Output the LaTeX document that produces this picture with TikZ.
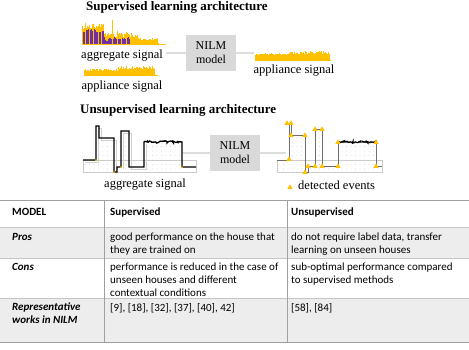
\documentclass[tikz,border=0pt]{standalone}
\usepackage{fontspec}
\setmainfont{Liberation Serif}
\newfontfamily\tabfont{Carlito}
\usepackage{tikz}
\usetikzlibrary{positioning,shapes.geometric,decorations.pathmorphing}
\definecolor{nilmorange}{HTML}{FFC000}
\definecolor{nilmpurple}{HTML}{7030A0}
\definecolor{nilmbox}{HTML}{D9D9D9}
\definecolor{nilmline}{HTML}{DDDDDD}
\definecolor{nilmgray}{HTML}{6E6E6E}
\definecolor{tabfill}{HTML}{EDEDED}
\definecolor{tabrule}{HTML}{A0A0A0}
\tikzset{
  archtitle/.style = {anchor=west, inner sep=0pt, font=\fontsize{13}{15}\selectfont\bfseries},
  siglabel/.style  = {inner sep=0pt, font=\fontsize{12.5}{14}\selectfont},
  modelbox/.style  = {rectangle, fill=nilmbox, minimum width=50pt, minimum height=36pt,
                       align=center, inner sep=1pt, font=\fontsize{12}{14}\selectfont},
  link/.style      = {nilmline, line width=2.2pt},
  stepshade/.style = {gray!35, line width=1pt},
  evt/.style       = {regular polygon, regular polygon sides=3, fill=nilmorange,
                       inner sep=0pt, minimum size=6pt, anchor=south},
  noisy/.style     = {decoration={random steps, segment length=1.2pt, amplitude=1.1pt}},
  tabhead/.style   = {anchor=north west, inner sep=0pt, align=left,
                       font=\tabfont\fontsize{11}{13}\selectfont\bfseries},
  tabcell/.style   = {anchor=north west, inner sep=0pt, align=left,
                       font=\tabfont\fontsize{11}{13}\selectfont},
  tabkey/.style    = {tabcell, font=\tabfont\fontsize{11}{13}\selectfont\bfseries\itshape},
}
\newcommand{\dotgrid}[3]{% first x, second x, last x
  \foreach \gx in {#1,#2,...,#3}
    \foreach \gy in {124,128.5,...,172}
      \fill[gray!45] (\gx,\gy) circle (0.45pt);}

\begin{document}
\begin{tikzpicture}[x=1pt,y=-1pt]
\useasboundingbox (0,0) rectangle (469,349);

% supervised architecture
\node[archtitle] (supt) at (86,7) {Supervised learning architecture};

% aggregate signal
\pgfmathsetseed{12}
\foreach \i in {0,...,76} {
  \pgfmathsetmacro{\xx}{82+\i}
  \pgfmathsetmacro{\sh}{(\xx<104) ? (24+5*rnd) : ((\xx<138) ? (33+4*rnd) : ((\xx<158) ? (38+2*rnd) : 43))}
  \draw[nilmorange, line width=1pt] (\xx,44) -- (\xx,\sh);
}
\foreach \i in {0,...,46} {
  \pgfmathsetmacro{\xx}{83+\i}
  \pgfmathsetmacro{\sh}{(\xx<104) ? (29+3*rnd) : (37+4*rnd)}
  \draw[nilmpurple, line width=1pt] (\xx,44) -- (\xx,\sh);
}
\foreach \xx/\sh in {85/23, 89/25, 93/24, 98/26, 101/24, 112/20, 117/31, 121/33, 126/32, 131/33}
  \draw[nilmorange, line width=0.7pt] (\xx,44) -- (\xx,\sh);
\draw[nilmorange, line width=0.8pt] (82,44) -- (166,44);
\node[siglabel] (aggS) at (122,56) {aggregate signal};

% appliance signal, input side
\foreach \i in {0,...,70} {
  \pgfmathsetmacro{\xx}{84+\i}
  \pgfmathsetmacro{\sh}{(\xx<118) ? (69+2*rnd) : (66+3*rnd)}
  \draw[nilmorange, line width=0.6pt] (\xx,75) -- (\xx,\sh);
}
\draw[nilmorange, line width=0.8pt] (84,75) -- (158,75);
\node[siglabel] (appS) at (122,87) {appliance signal};

% model and output
\node[modelbox] (nilmS) at (211,53) {NILM\\model};
\foreach \i in {0,...,74} {
  \pgfmathsetmacro{\xx}{255+\i}
  \pgfmathsetmacro{\sh}{(\xx<290) ? (53+2*rnd) : (51+3*rnd)}
  \draw[nilmorange, line width=0.6pt] (\xx,60) -- (\xx,\sh);
}
\draw[nilmorange, line width=0.8pt] (255,60) -- (331,60);
\node[siglabel] (appR) at (294,71) {appliance signal};
\coordinate (aggE) at (166,53);
\coordinate (appW) at (254,53);
\draw[link] (aggE) -- (nilmS);
\draw[link] (nilmS) -- (appW);

% unsupervised architecture
\node[archtitle] (unst) at (80,110) {Unsupervised learning architecture};
\node[modelbox] (nilmU) at (235,153) {NILM\\model};
\coordinate (aggU) at (183,153);
\coordinate (evtW) at (286,153);
\draw[link] (aggU) -- (nilmU);
\draw[link] (nilmU) -- (evtW);

% aggregate signal, left
\draw[gray!40, fill=white] (83,160) rectangle (196,172);
\begin{scope}
  \clip (83,172) -- (83,160) -- (96,160) -- (96,126) -- (99,126) -- (99,138) -- (114,138)
    -- (114,172) -- (117,172) -- (117,167) -- (121,167) -- (121,131) -- (129,131) -- (129,167)
    -- (144,167) -- (144,142) -- (182,142) -- (182,172) -- cycle;
  \dotgrid{85}{89.5}{196}
\end{scope}
\draw[stepshade] (85,162) -- (98,162) -- (98,128) -- (101,128) -- (101,140) -- (116,140) -- (116,174);
\draw[stepshade] (123,169) -- (123,133) -- (131,133) -- (131,169) -- (146,169) -- (146,144);
\draw[line width=1.3pt] (83,160) -- (96,160) -- (96,126) -- (99,126) -- (99,138) -- (114,138)
  -- (114,172) -- (117,172) -- (117,167) -- (121,167) -- (121,131) -- (129,131) -- (129,167)
  -- (144,167) -- (144,142) decorate[noisy] {-- (182,142)} -- (182,167) -- (196,167);
\foreach \xx/\yy in {96/160, 114/172, 121/167, 182/167}
  \fill[nilmorange] (\xx,\yy) circle (1pt);
\node[siglabel] (aggUl) at (145,185) {aggregate signal};

% detected events, right
\draw[gray!40, fill=white] (277,160) rectangle (382,172);
\begin{scope}
  \clip (277,172) -- (277,160) -- (289,160) -- (289,123) -- (291,123) -- (291,135) -- (305,135)
    -- (305,172) -- (308,172) -- (308,166) -- (315,166) -- (315,129) -- (322,129) -- (322,166)
    -- (338,166) -- (338,142) -- (376,142) -- (376,172) -- cycle;
  \dotgrid{279}{283.5}{382}
\end{scope}
\draw[nilmgray, line width=0.9pt] (277,160) -- (289,160) -- (289,123) -- (291,123) -- (291,135) -- (305,135)
  -- (305,172) -- (308,172) -- (308,166) -- (315,166) -- (315,129) -- (322,129) -- (322,166)
  -- (338,166) -- (338,142) -- (376,142) -- (376,166) -- (382,166);
\draw[line width=1.2pt] (338,142) decorate[noisy] {-- (376,142)};
\foreach \xx/\yy [count=\k] in {289/161, 287/125, 291/125, 291/137, 305/137, 305/174, 308/168, 315/168,
    315/131, 322/131, 322/168, 338/168, 338/144, 376/144, 376/168}
  \node[evt] (ev\k) at (\xx,\yy) {};
\node[evt] (evkey) at (290,189) {};
\node[siglabel, anchor=west] (evlbl) at (298,185) {detected events};

% comparison table
\fill[tabfill] (0,227) rectangle (469,258);
\fill[tabfill] (0,298) rectangle (469,342);
\foreach \yy in {227,258,298}
  \draw[tabrule!60] (0,\yy) -- (469,\yy);
\draw[tabrule] (0,200) -- (469,200);
\draw[tabrule] (0,342) -- (469,342);
\foreach \xx in {104,287}
  \draw[tabrule] (\xx,200) -- (\xx,342);

\node[tabhead] (hmod) at (12,208) {MODEL};
\node[tabhead] (hsup) at (110,208) {Supervised};
\node[tabhead] (huns) at (291,208) {Unsupervised};

\node[tabkey]  (kpro) at (12,233) {Pros};
\node[tabcell] (spro) at (110,233) {good performance on the house that\\they are trained on};
\node[tabcell] (upro) at (291,233) {do not require label data, transfer\\learning on unseen houses};

\node[tabkey]  (kcon) at (12,263) {Cons};
\node[tabcell] (scon) at (110,263) {performance is reduced in the case of\\unseen houses and different\\contextual conditions};
\node[tabcell] (ucon) at (291,263) {sub-optimal performance compared\\to supervised methods};

\node[tabkey]  (kref) at (12,303) {Representative\\works in NILM};
\node[tabcell] (sref) at (110,303) {[9], [18], [32], [37], [40], 42]};
\node[tabcell] (uref) at (291,303) {[58], [84]};
\end{tikzpicture}
\end{document}
